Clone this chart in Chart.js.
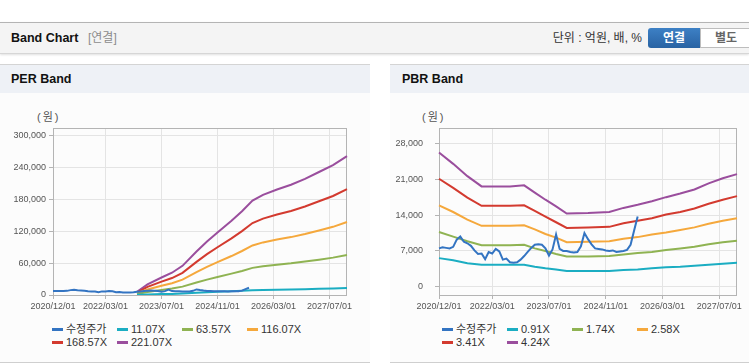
<!DOCTYPE html>
<html lang="ko">
<head>
<meta charset="utf-8">
<title>Band Chart</title>
<script src="https://cdn.jsdelivr.net/npm/chart.js@4.4.1/dist/chart.umd.min.js"></script>
<style>
    body {
        margin: 0;
        width: 749px;
        height: 364px;
        overflow: hidden;
        background: #fff;
        font-family: 'Liberation Sans', 'Noto Sans CJK KR', sans-serif;
        position: relative;
    }
    #topbar {
        position: absolute;
        left: 0; top: 22px;
        width: 749px; height: 30px;
        border-top: 1px solid #b4b4b4;
        border-bottom: 1px solid #d6d6d6;
        background: #f4f4f4;
        box-shadow: 0 1px 2px rgba(0, 0, 0, 0.12);
    }
    #topbar .title {
        position: absolute; left: 11px; top: 0;
        line-height: 30px; font-size: 12.5px; font-weight: bold; color: #111;
    }
    #topbar .sub {
        position: absolute; left: 88px; top: 0;
        line-height: 30px; font-size: 12px; color: #8c8c8c;
    }
    #topbar .unit {
        position: absolute; right: 107px; top: 0;
        line-height: 30px; font-size: 12px; color: #333;
    }
    .btn {
        position: absolute; top: 5px;
        width: 52px; height: 20px; line-height: 20px;
        text-align: center; font-size: 12px; font-weight: bold;
        box-sizing: border-box;
    }
    .btn.on {
        left: 648px;
        background: linear-gradient(#3d80c5, #2963a3);
        color: #fff;
        border-radius: 3px 0 0 3px;
    }
    .btn.off {
        left: 700px;
        background: #fff;
        color: #666;
        border: 1px solid #bdbdbd;
        line-height: 18px;
    }
    .panel {
        position: absolute;
        top: 64px; height: 297px;
        border-top: 1px solid #d4d4d4;
        border-bottom: 1px solid #cfcfcf;
        background: #fcfcfc;
    }
    .panel .head {
        height: 28px; line-height: 28px;
        background: #eef1f6;
        font-size: 12.5px; font-weight: bold; color: #111;
    }
    .panel canvas {
        position: absolute; left: 0; top: 28px;
    }
    .panel .unitlabel {
        position: absolute; top: 46px;
        font-size: 11px; line-height: 13px; color: #555;
        letter-spacing: 2px;
    }
    .legend {
        position: absolute; left: 52px; top: 258px;
        width: 264px;
        display: flex; flex-wrap: wrap;
        font-size: 11px; line-height: 13px; color: #333;
    }
    .legend .item {
        width: 65px; white-space: nowrap;
        display: flex; align-items: center;
    }
    .legend .mark {
        display: inline-block; width: 11px; height: 3px; margin-right: 3px;
    }
</style>
</head>
<body>

<div id="topbar">
    <span class="title">Band Chart</span>
    <span class="sub">[연결]</span>
    <span class="unit">단위 : 억원, 배, %</span>
    <span class="btn on">연결</span>
    <span class="btn off">별도</span>
</div>

<div class="panel" style="left:0; width:370px;">
    <div class="head" style="padding-left:11px;">PER Band</div>
    <span class="unitlabel" style="left:37px;">(원)</span>
    <canvas id="per-chart" width="370" height="222"></canvas>
    <div class="legend" id="per-legend"></div>
</div>

<div class="panel" style="left:390px; width:370px;">
    <div class="head" style="padding-left:12px;">PBR Band</div>
    <span class="unitlabel" style="left:32px;">(원)</span>
    <canvas id="pbr-chart" width="359" height="222"></canvas>
    <div class="legend" id="pbr-legend"></div>
</div>

<script>
// 월별 카테고리 (2020/12 ~ 2027/12)
const months = [
    '2020/12/01',
    '2021/01/01', '2021/02/01', '2021/03/01', '2021/04/01', '2021/05/01', '2021/06/01',
    '2021/07/01', '2021/08/01', '2021/09/01', '2021/10/01', '2021/11/01', '2021/12/01',
    '2022/01/01', '2022/02/01', '2022/03/01', '2022/04/01', '2022/05/01', '2022/06/01',
    '2022/07/01', '2022/08/01', '2022/09/01', '2022/10/01', '2022/11/01', '2022/12/01',
    '2023/01/01', '2023/02/01', '2023/03/01', '2023/04/01', '2023/05/01', '2023/06/01',
    '2023/07/01', '2023/08/01', '2023/09/01', '2023/10/01', '2023/11/01', '2023/12/01',
    '2024/01/01', '2024/02/01', '2024/03/01', '2024/04/01', '2024/05/01', '2024/06/01',
    '2024/07/01', '2024/08/01', '2024/09/01', '2024/10/01', '2024/11/01', '2024/12/01',
    '2025/01/01', '2025/02/01', '2025/03/01', '2025/04/01', '2025/05/01', '2025/06/01',
    '2025/07/01', '2025/08/01', '2025/09/01', '2025/10/01', '2025/11/01', '2025/12/01',
    '2026/01/01', '2026/02/01', '2026/03/01', '2026/04/01', '2026/05/01', '2026/06/01',
    '2026/07/01', '2026/08/01', '2026/09/01', '2026/10/01', '2026/11/01', '2026/12/01',
    '2027/01/01', '2027/02/01', '2027/03/01', '2027/04/01', '2027/05/01', '2027/06/01',
    '2027/07/01', '2027/08/01', '2027/09/01', '2027/10/01', '2027/11/01', '2027/12/01'
];

// x축 눈금 (2020/12/01, 2022/03/01, 2023/07/01, 2024/11/01, 2026/03/01, 2027/07/01)
const xTickLabels = ['2020/12/01', '2022/03/01', '2023/07/01', '2024/11/01', '2026/03/01', '2027/07/01'];

// 수정주가 (월별, 2020/12 ~ 2025/08)
const price = [
    7500, 7700, 7600, 7500, 7800, 9200, 9800, 8800, 8500, 8000,
    7100, 6400, 6500, 5400, 6800, 6500, 7400, 6900, 5300, 5500,
    4800, 4700, 4800, 5300, 6000, 6800, 7600, 8200, 8300, 8200,
    7500, 6100, 7300, 10200, 7400, 7000, 7000, 6800, 6700, 6800,
    7900, 10500, 9300, 8300, 7500, 7400, 7300, 7100, 7000, 7100,
    6800, 6900, 7000, 7200, 8200, 11000, 13700
];

// PER 밴드
const perBandDates = [
    '2022/12/01', '2023/03/01', '2023/07/01', '2023/10/01', '2024/01/01', '2024/05/01',
    '2024/08/01', '2024/11/01', '2025/03/01', '2025/06/01', '2025/09/01', '2025/12/01',
    '2026/04/01', '2026/08/01', '2026/12/01', '2027/04/01', '2027/08/01', '2027/12/01'
];
const per1107 = [300, 1000, 1700, 2100, 2800, 4100, 5100, 5900, 7000, 7900, 8900, 9500, 10000, 10400, 11000, 11600, 12300, 13100];
const per6357 = [1700, 5800, 9500, 12100, 15800, 23600, 29000, 33900, 40300, 45400, 51200, 54400, 57200, 59800, 63000, 66700, 70500, 75400];
const per11607 = [3200, 10500, 17300, 22100, 28900, 43100, 53000, 62000, 73500, 83000, 93500, 99200, 104500, 109200, 115000, 121800, 128600, 137600];
const per16857 = [4600, 15300, 25200, 32000, 41900, 62500, 77000, 90000, 106800, 120500, 135700, 144100, 151700, 158600, 167000, 176900, 186800, 199800];
const per22107 = [6000, 20000, 33000, 42000, 55000, 82000, 101000, 118000, 140000, 158000, 178000, 189000, 199000, 208000, 219000, 232000, 245000, 262000];
const perNames = ['수정주가', '11.07X', '63.57X', '116.07X', '168.57X', '221.07X'];
const perYTicks = [0, 60000, 120000, 180000, 240000, 300000];

// PBR 밴드
const pbrBandDates = [
    '2020/12/01', '2021/04/01', '2021/08/01', '2021/12/01', '2022/04/01', '2022/08/01',
    '2022/12/01', '2023/03/01', '2023/06/01', '2023/09/01', '2023/12/01', '2024/06/01',
    '2024/12/01', '2025/04/01', '2025/08/01', '2025/12/01', '2026/04/01', '2026/08/01',
    '2026/12/01', '2027/04/01', '2027/08/01', '2027/12/01'
];
const pbr091 = [5600, 5200, 4600, 4300, 4300, 4300, 4300, 3900, 3600, 3400, 3100, 3100, 3100, 3300, 3400, 3600, 3800, 3900, 4100, 4300, 4500, 4700];
const pbr174 = [10700, 9800, 8900, 8100, 8100, 8100, 8200, 7500, 7000, 6400, 5900, 5900, 6000, 6300, 6600, 6800, 7200, 7500, 7800, 8300, 8700, 9000];
const pbr258 = [15900, 14600, 13100, 11900, 11900, 11900, 12000, 11200, 10300, 9600, 8700, 8800, 8900, 9400, 9700, 10200, 10600, 11100, 11600, 12300, 12900, 13400];
const pbr341 = [21100, 19300, 17400, 15800, 15800, 15800, 15900, 14800, 13700, 12600, 11500, 11600, 11700, 12400, 12900, 13400, 14100, 14600, 15300, 16200, 17000, 17700];
const pbr424 = [26200, 24000, 21600, 19600, 19600, 19600, 19800, 18400, 17000, 15700, 14300, 14400, 14600, 15400, 16000, 16700, 17500, 18200, 19000, 20200, 21200, 22000];
const pbrNames = ['수정주가', '0.91X', '1.74X', '2.58X', '3.41X', '4.24X'];
const pbrYTicks = [0, 7000, 14000, 21000, 28000];

const lineColors = ['#3374c2', '#1badc2', '#8fb352', '#f5a83c', '#d33a2f', '#9a4e9d'];

// 밴드 날짜 + 값 -> 포인트
function toPoints(dates, values) {
    return dates.map((d, i) => ({ x: d, y: values[i] }));
}

// 플롯 영역 테두리
const plotBorder = {
    id: 'plotBorder',
    beforeDatasetsDraw(chart) {
        const { ctx, chartArea: a } = chart;
        ctx.save();
        ctx.strokeStyle = '#b4b4b4';
        ctx.lineWidth = 1;
        ctx.strokeRect(Math.round(a.left) + 0.5, Math.round(a.top) + 0.5,
            Math.round(a.right - a.left) - 1, Math.round(a.bottom - a.top));
        ctx.restore();
    }
};

function drawLegend(id, names) {
    const box = document.getElementById(id);
    box.innerHTML = names.map((n, i) =>
        `<span class="item"><span class="mark" style="background:${lineColors[i]}"></span>${n}</span>`
    ).join('');
}

function createBandChart(canvasId, names, seriesData, yTicks, yMin, yMax, yWidth, rightPad, labelPad) {
    const canvas = document.getElementById(canvasId);

    const datasets = seriesData.map((d, i) => ({
        label: names[i],
        data: d,
        borderColor: lineColors[i],
        backgroundColor: lineColors[i],
        borderWidth: 2,
        pointRadius: 0,
        tension: 0,
        fill: false
    }));

    const tickFont = { family: "'Liberation Sans', Arial, sans-serif", size: 9 };

    return new Chart(canvas, {
        type: 'line',
        data: { labels: months, datasets: datasets },
        options: {
            responsive: false,
            animation: false,
            layout: { padding: { top: 35, right: rightPad, bottom: 0, left: 0 } },
            plugins: {
                legend: { display: false },
                title: { display: false },
                tooltip: { enabled: false }
            },
            scales: {
                x: {
                    type: 'category',
                    offset: false,
                    afterBuildTicks: axis => {
                        axis.ticks = xTickLabels.map(l => ({ value: months.indexOf(l) }));
                    },
                    afterFit: axis => { axis.height = 20; },
                    ticks: {
                        autoSkip: false,
                        maxRotation: 0,
                        padding: 2,
                        color: '#555',
                        font: tickFont
                    },
                    grid: {
                        color: '#e4e4e4',
                        tickColor: '#b4b4b4',
                        tickLength: 4
                    },
                    border: { display: false }
                },
                y: {
                    min: yMin,
                    max: yMax,
                    afterBuildTicks: axis => {
                        axis.ticks = yTicks.map(v => ({ value: v }));
                    },
                    afterFit: axis => { axis.width = yWidth; },
                    ticks: {
                        padding: labelPad,
                        color: '#555',
                        font: tickFont,
                        callback: v => v.toLocaleString('en-US')
                    },
                    grid: {
                        color: '#e4e4e4',
                        tickColor: '#b4b4b4',
                        tickLength: 4
                    },
                    border: { display: false }
                }
            }
        },
        plugins: [plotBorder]
    });
}

// PER 밴드 차트
window.perChart = createBandChart('per-chart', perNames, [
    price,
    toPoints(perBandDates, per1107),
    toPoints(perBandDates, per6357),
    toPoints(perBandDates, per11607),
    toPoints(perBandDates, per16857),
    toPoints(perBandDates, per22107)
], perYTicks, 0, 315000, 53, 23, 3);
drawLegend('per-legend', perNames);

// PBR 밴드 차트
window.pbrChart = createBandChart('pbr-chart', pbrNames, [
    price,
    toPoints(pbrBandDates, pbr091),
    toPoints(pbrBandDates, pbr174),
    toPoints(pbrBandDates, pbr258),
    toPoints(pbrBandDates, pbr341),
    toPoints(pbrBandDates, pbr424)
], pbrYTicks, -1600, 31000, 49, 12, 12);
drawLegend('pbr-legend', pbrNames);
</script>
</body>
</html>
